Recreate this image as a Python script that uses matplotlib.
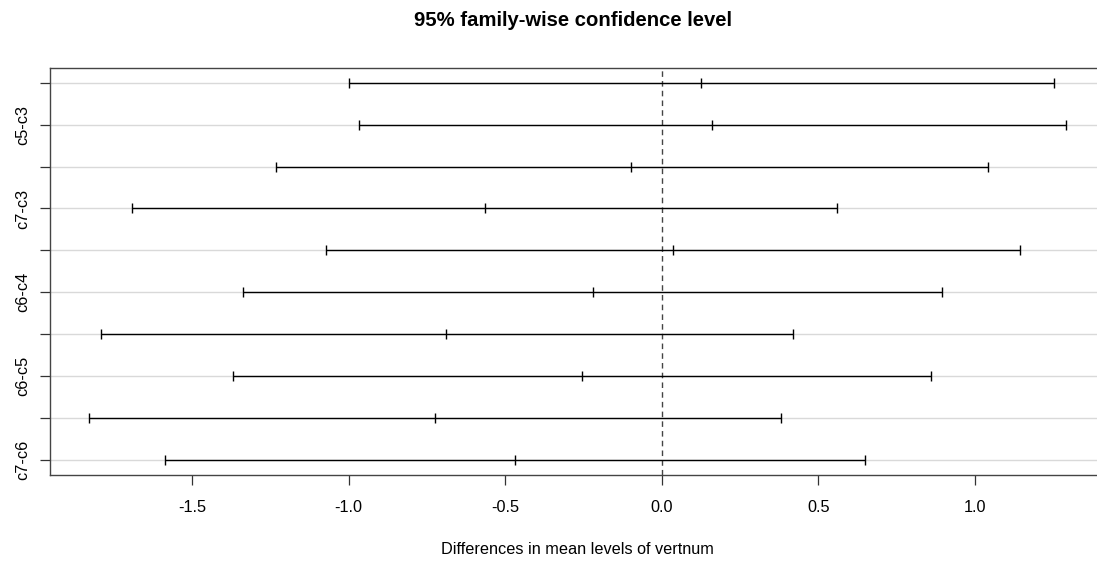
import numpy as np
import matplotlib.pyplot as plt

plt.rcParams['font.family'] = ['Liberation Sans', 'DejaVu Sans']

# Tukey HSD comparisons, top to bottom
comparisons = ['c4-c3', 'c5-c3', 'c6-c3', 'c7-c3', 'c5-c4',
               'c6-c4', 'c7-c4', 'c6-c5', 'c7-c5', 'c7-c6']
diff = [0.126, 0.160, -0.097, -0.565, 0.037, -0.219, -0.688, -0.253, -0.723, -0.469]
lwr = [-1.000, -0.966, -1.233, -1.692, -1.072, -1.336, -1.792, -1.370, -1.829, -1.587]
upr = [1.253, 1.290, 1.041, 0.561, 1.145, 0.897, 0.418, 0.861, 0.382, 0.650]
xticks = [-1.5, -1.0, -0.5, 0.0, 0.5, 1.0]

n = len(comparisons)
yvals = np.arange(n, 0, -1)
lwr = np.array(lwr)
upr = np.array(upr)
diff = np.array(diff)

fig = plt.figure(figsize=(10.97, 5.63), dpi=100)
ax = fig.add_axes([0.0456, 0.1561, 0.9613, 0.7238])

# light guide lines at each comparison
for y in yvals:
    ax.axhline(y, color='#d9d9d9', lw=1.0, zorder=0)

ax.hlines(yvals, lwr, upr, color='black', lw=1.0, zorder=2)
for vals in (lwr, diff, upr):
    ax.plot(vals, yvals, ls='none', marker='|', ms=7, mew=1.0, color='black', zorder=3)

ax.axvline(0, color='#444444', ls=(0, (4, 3)), lw=1.0, zorder=1)

# R-style 4% axis extension
xr = np.concatenate([lwr, upr])
xpad = 0.04 * (xr.max() - xr.min())
ax.set_xlim(xr.min() - xpad, xr.max() + xpad)
ypad = 0.04 * (n - 1)
ax.set_ylim(1 - ypad, n + ypad)

ax.set_xticks(xticks)
ax.set_xticklabels([f'{t:.1f}' for t in xticks])
ax.set_yticks(yvals)
ax.set_yticklabels([c if i % 2 == 1 else '' for i, c in enumerate(comparisons)],
                   rotation=90, va='center')

ax.tick_params(axis='both', direction='out', length=7.2, width=0.9, labelsize=11.7,
               color='#333333')
ax.tick_params(axis='x', pad=11)
ax.tick_params(axis='y', pad=7)
for s in ax.spines.values():
    s.set_color('#444444')
    s.set_linewidth(1.0)

ax.set_xlabel('Differences in mean levels of vertnum', fontsize=11.7, labelpad=19)
fig.suptitle('95% family-wise confidence level', fontsize=14.6, fontweight='bold',
             x=0.522, y=0.98, va='top')

fig.savefig('out.png', dpi=100)
